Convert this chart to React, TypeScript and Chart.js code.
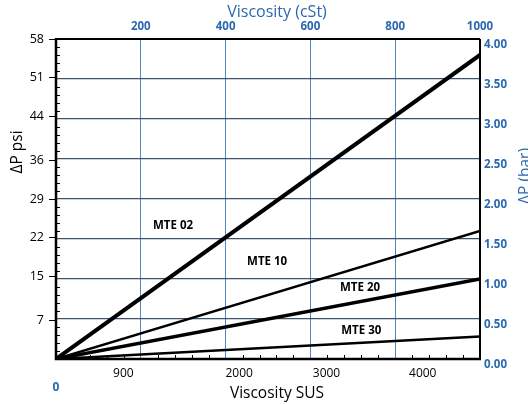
import React, { useEffect, useRef } from "react";
import { Chart, registerables } from "chart.js";

Chart.register(...registerables);

// ---- data ----
const VISC_CST = [0, 1000];
const MTE02_BAR = [0, 3.8];
const MTE10_BAR = [0, 1.6];
const MTE20_BAR = [0, 1.0];
const MTE30_BAR = [0, 0.28];
const SERIES_NAMES = ["MTE 02", "MTE 10", "MTE 20", "MTE 30"];
// series label anchor points (cSt, bar)
const LABEL_CST = [276, 498, 717, 720];
const LABEL_BAR = [1.66, 1.21, 0.89, 0.35];

const PSI_TICKS = [7, 15, 22, 29, 36, 44, 51, 58];
const CST_TICKS = [200, 400, 600, 800, 1000];
const SUS_TICK_POS_CST = [0, 159, 432, 638, 865];
const SUS_TICK_LABELS = ["0", "900", "2000", "3000", "4000"];

const BLUE = "#2a68b0";
const GRID_H = "#3d5266";
const GRID_V = "#4f86c4";
const FONT = "'Open Sans', 'Noto Sans', sans-serif";

const overlay = {
  id: "overlay",
  beforeDatasetsDraw(chart: any) {
    const { ctx, chartArea: a, scales } = chart;
    ctx.save();
    ctx.strokeStyle = "#000";
    ctx.lineWidth = 1;
    ctx.beginPath();
    for (let i = 1; i < 40; i++) {
      if (i % 5 === 0) continue;
      const y = Math.round(scales.y.getPixelForValue(i * 0.1)) + 0.5;
      ctx.moveTo(a.left, y);
      ctx.lineTo(a.left + 4, y);
    }
    for (let i = 1; i < 25; i++) {
      if (i % 5 === 0) continue;
      const x = Math.round(scales.x.getPixelForValue(i * 40)) + 0.5;
      ctx.moveTo(x, a.bottom);
      ctx.lineTo(x, a.bottom - 4);
    }
    ctx.stroke();
    // borders
    ctx.lineWidth = 2;
    ctx.beginPath();
    ctx.moveTo(a.left, a.top);
    ctx.lineTo(a.right, a.top);
    ctx.moveTo(a.right, a.top);
    ctx.lineTo(a.right, a.bottom);
    ctx.stroke();
    ctx.lineWidth = 2.5;
    ctx.beginPath();
    ctx.moveTo(a.left, a.top - 1);
    ctx.lineTo(a.left, a.bottom);
    ctx.lineTo(a.right + 1, a.bottom);
    ctx.stroke();
    ctx.restore();
  },
  afterDraw(chart: any) {
    const { ctx, scales } = chart;
    ctx.save();
    // series labels
    ctx.fillStyle = "#000";
    ctx.font = `bold 11.5px ${FONT}`;
    ctx.textAlign = "center";
    ctx.textBaseline = "middle";
    SERIES_NAMES.forEach((n, i) => {
      ctx.fillText(n, scales.x.getPixelForValue(LABEL_CST[i]), scales.y.getPixelForValue(LABEL_BAR[i]));
    });
    // titles
    ctx.font = `16px ${FONT}`;
    ctx.fillStyle = BLUE;
    ctx.fillText("Viscosity (cSt)", 277, 12);
    ctx.font = `15.5px ${FONT}`;
    ctx.fillStyle = "#000";
    ctx.fillText("Viscosity SUS", 277, 394);
    ctx.save();
    ctx.translate(18, 152);
    ctx.rotate(-Math.PI / 2);
    ctx.fillText("ΔP psi", 0, 0);
    ctx.restore();
    ctx.save();
    ctx.fillStyle = BLUE;
    ctx.translate(526, 176);
    ctx.rotate(-Math.PI / 2);
    ctx.fillText("ΔP (bar)", 0, 0);
    ctx.restore();
    ctx.restore();
  },
};

export default function App() {
  const ref = useRef<HTMLCanvasElement>(null);
  useEffect(() => {
    const mk = (vals: number[]) => VISC_CST.map((x, i) => ({ x, y: vals[i] }));
    const chart = new Chart(ref.current!, {
      type: "line",
      data: {
        datasets: [
          { label: SERIES_NAMES[0], data: mk(MTE02_BAR), borderColor: "#000", borderWidth: 4, pointRadius: 0, xAxisID: "x", yAxisID: "y" },
          { label: SERIES_NAMES[1], data: mk(MTE10_BAR), borderColor: "#000", borderWidth: 2.5, pointRadius: 0, xAxisID: "x", yAxisID: "y" },
          { label: SERIES_NAMES[2], data: mk(MTE20_BAR), borderColor: "#000", borderWidth: 3.5, pointRadius: 0, xAxisID: "x", yAxisID: "y" },
          { label: SERIES_NAMES[3], data: mk(MTE30_BAR), borderColor: "#000", borderWidth: 2.5, pointRadius: 0, xAxisID: "x", yAxisID: "y" },
        ],
      },
      options: {
        animation: false,
        responsive: false,
        devicePixelRatio: 1,
        layout: { padding: 0 },
        plugins: { legend: { display: false }, tooltip: { enabled: false } },
        scales: {
          x: {
            type: "linear",
            position: "top",
            min: 0,
            max: 1000,
            afterBuildTicks: (s: any) => { s.ticks = CST_TICKS.map((v) => ({ value: v })); },
            afterFit: (s: any) => { s.height = 39; },
            border: { display: false },
            grid: { color: GRID_V, lineWidth: 1, drawTicks: false },
            ticks: {
              color: BLUE,
              font: { family: FONT, size: 11.5, weight: "bold" },
              padding: 5,
              maxRotation: 0,
              callback: (v: any) => String(v),
            },
          },
          x2: {
            type: "linear",
            position: "bottom",
            min: 0,
            max: 1000,
            afterBuildTicks: (s: any) => { s.ticks = SUS_TICK_POS_CST.map((v) => ({ value: v })); },
            afterFit: (s: any) => { s.height = 45; },
            border: { display: false },
            grid: { drawOnChartArea: false, drawTicks: false },
            ticks: {
              padding: 7,
              maxRotation: 0,
              autoSkip: false,
              callback: (_v: any, i: number) => (i === 0 ? ["", SUS_TICK_LABELS[0]] : SUS_TICK_LABELS[i]),
              color: (c: any) => (c.index === 0 ? BLUE : "#000"),
              font: (c: any) => ({ family: FONT, size: 12, weight: c.index === 0 ? "bold" : "normal" }),
            },
          },
          y: {
            type: "linear",
            position: "right",
            min: 0,
            max: 4,
            afterFit: (s: any) => { s.width = 48; },
            border: { display: false },
            grid: { color: GRID_H, lineWidth: 1.2, drawTicks: false },
            ticks: {
              stepSize: 0.5,
              padding: 4,
              labelOffset: 6,
              color: BLUE,
              font: { family: FONT, size: 11.5, weight: "bold" },
              callback: (v: any) => Number(v).toFixed(2),
            },
          },
          y2: {
            type: "linear",
            position: "left",
            min: 0,
            max: 58,
            afterBuildTicks: (s: any) => { s.ticks = PSI_TICKS.map((v) => ({ value: v })); },
            afterFit: (s: any) => { s.width = 56; },
            border: { display: false },
            grid: { drawOnChartArea: false, drawTicks: true, tickLength: 7, color: "#000" },
            ticks: { padding: 5, color: "#000", font: { family: FONT, size: 12.5 } },
          },
        },
      },
      plugins: [overlay],
    } as any);
    return () => chart.destroy();
  }, []);
  return (
    <div style={{ position: "absolute", left: 0, top: 0, width: 528, height: 404, background: "#fff" }}>
      <canvas ref={ref} width={528} height={404} />
    </div>
  );
}
